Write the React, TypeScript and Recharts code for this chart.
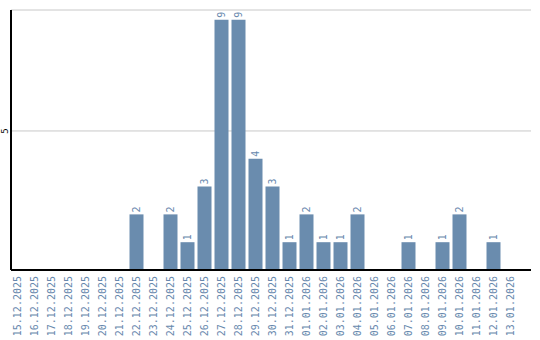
import React from 'react';
import { BarChart, Bar, XAxis, YAxis, CartesianGrid, LabelList } from 'recharts';

const dates = [
  '15.12.2025', '16.12.2025', '17.12.2025', '18.12.2025', '19.12.2025', '20.12.2025',
  '21.12.2025', '22.12.2025', '23.12.2025', '24.12.2025', '25.12.2025', '26.12.2025',
  '27.12.2025', '28.12.2025', '29.12.2025', '30.12.2025', '31.12.2025', '01.01.2026',
  '02.01.2026', '03.01.2026', '04.01.2026', '05.01.2026', '06.01.2026', '07.01.2026',
  '08.01.2026', '09.01.2026', '10.01.2026', '11.01.2026', '12.01.2026', '13.01.2026',
];
const counts = [0, 0, 0, 0, 0, 0, 0, 2, 0, 2, 1, 3, 9, 9, 4, 3, 1, 2, 1, 1, 2, 0, 0, 1, 0, 1, 2, 0, 1, 0];
const yTicks = [5];

const data = dates.map((d, i) => ({ date: d, count: counts[i] }));

const FONT = '"DejaVu Sans Mono", monospace';
const BAR = '#6a8cae';
const TEXT = '#6788ad';

// rotated date labels under the axis
const DateTick = (props: any) => {
  const { x, y, payload } = props;
  return (
    <text
      transform={`translate(${x},${y - 2}) rotate(-90)`}
      textAnchor="end"
      dy="0.35em"
      fontSize={10}
      fontFamily={FONT}
      fill={TEXT}
    >
      {payload.value}
    </text>
  );
};

const ValueTick = (props: any) => {
  const { x, y, payload } = props;
  return (
    <text
      transform={`translate(${x + 1.5},${y}) rotate(-90)`}
      textAnchor="middle"
      dy="0.35em"
      fontSize={9}
      fontFamily={FONT}
      fill="#000"
    >
      {payload.value}
    </text>
  );
};

const BarValue = (props: any) => {
  const { x, y, width, value } = props;
  if (!value) return null;
  return (
    <text
      transform={`translate(${x + width / 2},${y - 2}) rotate(-90)`}
      textAnchor="start"
      dy="0.35em"
      fontSize={10}
      fontFamily={FONT}
      fill={TEXT}
    >
      {value}
    </text>
  );
};

export default function App() {
  return (
    <div style={{ position: 'absolute', left: 0, top: 0, background: '#fff' }}>
      <BarChart
        width={540}
        height={340}
        data={data}
        margin={{ top: 10, right: 9, left: 0, bottom: 0 }}
        barSize={14}
      >
        <CartesianGrid vertical={false} stroke="#c8c8c8" />
        <XAxis
          dataKey="date"
          interval={0}
          height={70}
          padding={{ left: -2.5, right: 12.5 }}
          tickLine={false}
          axisLine={{ stroke: '#000', strokeWidth: 2 }}
          tick={<DateTick />}
        />
        <YAxis
          width={11}
          domain={[0, 9.35]}
          ticks={yTicks}
          tickLine={false}
          axisLine={{ stroke: '#000', strokeWidth: 2 }}
          tick={<ValueTick />}
        />
        <Bar dataKey="count" fill={BAR} isAnimationActive={false}>
          <LabelList dataKey="count" content={<BarValue />} />
        </Bar>
      </BarChart>
    </div>
  );
}
